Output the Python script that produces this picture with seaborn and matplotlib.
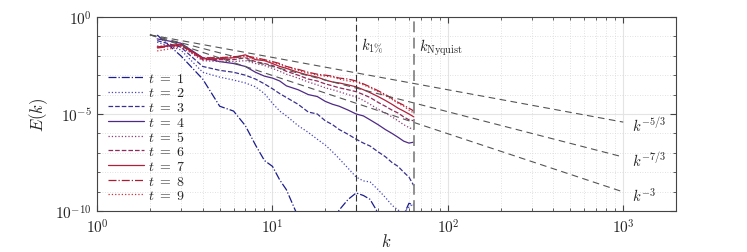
import numpy as np
import pandas as pd
import matplotlib
matplotlib.use("Agg")
import matplotlib.pyplot as plt
import seaborn as sns
from matplotlib.ticker import LogLocator, NullFormatter

# --- donnees (log10 E(k)) ---
k = [2.2, 3, 4, 5, 6, 7, 8, 9, 10, 11, 12, 14, 16, 18, 20, 22, 24, 27, 30,
     33, 36, 40, 44, 48, 52, 56, 60, 64]

log_e_t1 = [-0.93, -2.0, -3.2, -4.6, -4.85, -5.6, -6.6, -7.4, -7.7, -8.4, -8.9, -10.3,
            -11.0, -11.5, -11.0, -10.5, -9.95, -9.4, -9.07, -9.2, -9.4, -10.1, -10.8,
            -11.0, -11.0, -10.2, -9.6, -9.7]
log_e_t2 = [-1.3, -1.7, -2.85, -3.1, -3.25, -3.4, -3.6, -3.95, -4.45, -4.85, -5.1, -5.6,
            -5.95, -6.3, -6.6, -6.95, -7.3, -7.8, -8.25, -8.45, -8.5, -8.9, -9.3, -9.7,
            -9.95, -10.1, -9.8, -9.6]
log_e_t3 = [-1.22, -1.55, -2.55, -2.75, -2.85, -3.0, -3.2, -3.45, -3.7, -3.95, -4.15, -4.5,
            -4.9, -5.0, -5.35, -5.55, -5.8, -6.05, -6.3, -6.5, -6.65, -6.95, -7.2, -7.5,
            -7.7, -8.0, -8.25, -8.7]
log_e_t4 = [-1.13, -1.35, -2.1, -2.3, -2.4, -2.55, -2.85, -3.05, -3.15, -3.3, -3.55, -3.75,
            -4.0, -4.1, -4.35, -4.5, -4.6, -4.8, -5.0, -5.1, -5.3, -5.55, -5.8, -6.0,
            -6.2, -6.4, -6.5, -6.45]
log_e_t5 = [-1.5, -1.5, -2.25, -2.3, -2.3, -2.25, -2.4, -2.5, -2.65, -2.8, -2.95, -3.15,
            -3.35, -3.5, -3.65, -3.75, -3.85, -4.0, -4.12, -4.3, -4.5, -4.75, -4.95, -5.15,
            -5.35, -5.55, -5.7, -5.8]
log_e_t6 = [-1.55, -1.45, -2.2, -2.2, -2.2, -2.1, -2.3, -2.4, -2.5, -2.65, -2.8, -3.0,
            -3.2, -3.3, -3.45, -3.55, -3.65, -3.75, -3.85, -4.0, -4.15, -4.4, -4.6, -4.8,
            -4.95, -5.15, -5.3, -5.35]
log_e_t7 = [-1.55, -1.4, -2.15, -2.15, -2.1, -1.95, -2.2, -2.25, -2.4, -2.55, -2.65, -2.85,
            -3.0, -3.1, -3.25, -3.35, -3.4, -3.5, -3.6, -3.75, -3.9, -4.1, -4.3, -4.5,
            -4.7, -4.85, -5.0, -5.15]
log_e_t8 = [-1.6, -1.45, -2.1, -2.1, -2.05, -2.0, -2.1, -2.2, -2.3, -2.4, -2.55, -2.7,
            -2.85, -2.95, -3.0, -3.05, -3.15, -3.2, -3.3, -3.45, -3.6, -3.8, -4.0, -4.2,
            -4.4, -4.55, -4.7, -4.85]
log_e_t9 = [-1.75, -1.55, -2.15, -2.1, -2.1, -2.05, -2.15, -2.25, -2.35, -2.45, -2.6, -2.75,
            -2.9, -3.0, -3.05, -3.1, -3.2, -3.3, -3.35, -3.5, -3.65, -3.85, -4.05, -4.25,
            -4.45, -4.6, -4.8, -4.95]

series = [log_e_t1, log_e_t2, log_e_t3, log_e_t4, log_e_t5,
          log_e_t6, log_e_t7, log_e_t8, log_e_t9]
labels = [rf"$t\ =\ {i}$" for i in range(1, 10)]
couleurs = ["#1c1c8c", "#4848bc", "#38308e", "#4e2a84", "#8c3a78",
            "#8e2a5a", "#b0203c", "#a81c34", "#d0303c"]
styles = ["-.", ":", "--", "-", ":", "--", "-", "-.", ":"]

# droites de reference k^-p, partant de k=2 jusqu'a k=1000
k_ref = [2, 1000]
e_ref_depart = 10 ** -0.92
pentes = [5 / 3, 7 / 3, 3]
labels_ref = [r"$k^{-5/3}$", r"$k^{-7/3}$", r"$k^{-3}$"]

k_un_pourcent = 30
k_nyquist = 64

xticks = [1, 10, 100, 1000]
xticklabels = [r"$10^{0}$", r"$10^{1}$", r"$10^{2}$", r"$10^{3}$"]
yticks = [1e-10, 1e-5, 1]
yticklabels = [r"$10^{-10}$", r"$10^{-5}$", r"$10^{0}$"]

# --- style ---
sns.set_style("ticks")
plt.rcParams["font.family"] = ["DejaVu Serif"]
plt.rcParams["mathtext.fontset"] = "cm"

fig = plt.figure(figsize=(7.47, 2.53), dpi=100)
ax = fig.add_axes([0.130, 0.162, 0.775, 0.767])

for vals, lab, c, ls in zip(series, labels, couleurs, styles):
    df = pd.DataFrame({"k": k, "E": np.power(10.0, vals)})
    sns.lineplot(data=df, x="k", y="E", ax=ax, color=c, linestyle=ls,
                 linewidth=0.9, label=lab)

for p, lab in zip(pentes, labels_ref):
    e_ref = [e_ref_depart * (kk / k_ref[0]) ** (-p) for kk in k_ref]
    ax.plot(k_ref, e_ref, color="#555555", linestyle=(0, (6, 4)), linewidth=0.8)
    ax.text(1120, e_ref[1] * 0.7, lab, fontsize=10.5, ha="left", va="center")

ax.axvline(k_un_pourcent, color="#333333", linestyle=(0, (6, 3)), linewidth=0.8)
ax.axvline(k_nyquist, color="#888888", linestyle=(0, (6, 3)), linewidth=1.3)
ax.text(k_un_pourcent * 1.07, 10 ** -1.45, r"$k_{1\%}$", fontsize=10.5,
        ha="left", va="center")
ax.text(k_nyquist * 1.07, 10 ** -1.55, r"$k_{\mathrm{Nyquist}}$", fontsize=10.5,
        ha="left", va="center")

ax.set_xscale("log")
ax.set_yscale("log")
ax.set_xlim(1, 2000)
ax.set_ylim(1e-10, 1)

ax.set_xticks(xticks, xticklabels)
ax.set_yticks(yticks, yticklabels)
ax.xaxis.set_minor_locator(LogLocator(base=10, subs=np.arange(2, 10), numticks=20))
ax.xaxis.set_minor_formatter(NullFormatter())
ax.set_yticks([10.0 ** -i for i in range(1, 10) if i != 5], minor=True)
ax.yaxis.set_minor_formatter(NullFormatter())

ax.tick_params(which="both", direction="in", top=True, right=True,
               labelsize=11, color="#444444")
ax.tick_params(which="major", length=4)
ax.tick_params(axis="x", which="major", pad=5)
ax.tick_params(axis="y", which="major", pad=4)
ax.tick_params(which="minor", length=2)
ax.grid(which="major", color="#e4e4e4", linewidth=0.8, linestyle="-")
ax.grid(which="minor", color="#d8d8d8", linewidth=0.6, linestyle=(0, (1, 2)))
ax.set_axisbelow(True)
for s in ax.spines.values():
    s.set_color("#444444")
    s.set_linewidth(0.8)

ax.set_xlabel(r"$k$", fontsize=12, labelpad=-2)
ax.set_ylabel(r"$E(k)$", fontsize=12, labelpad=4)

ax.legend(loc="upper left", bbox_to_anchor=(0.0, 0.78), frameon=False,
          fontsize=10, handlelength=2.6, handletextpad=0.3,
          labelspacing=0.05, borderaxespad=0.4)

fig.savefig("out.png", dpi=100)
